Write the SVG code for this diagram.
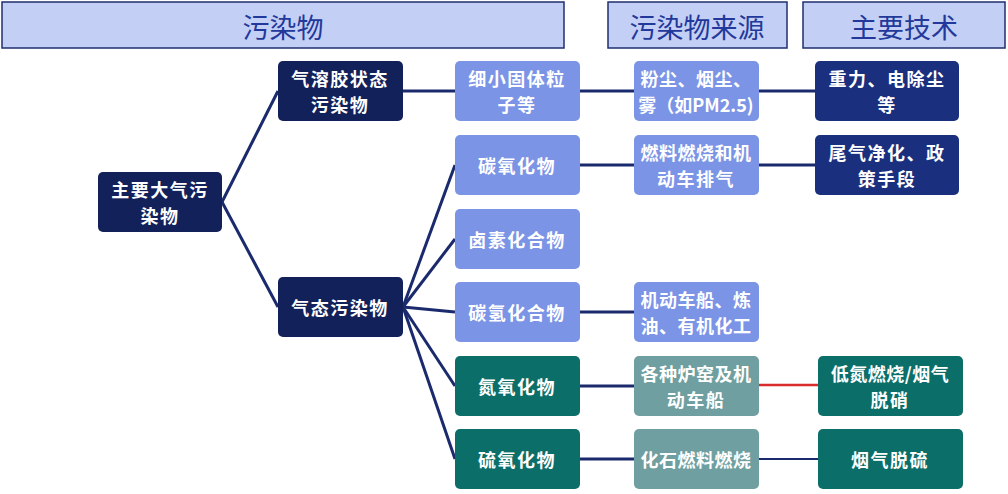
<svg xmlns="http://www.w3.org/2000/svg" width="1008" height="494" viewBox="0 0 1008 494">
<style>
text{font-family:"Noto Sans CJK SC","Noto Sans",sans-serif;text-anchor:middle;dominant-baseline:central;}
.hdr rect{fill:#c4cff5;stroke:#1f2f6e;stroke-width:1.5}
.hdr text{fill:#22389a;font-size:27px}
.nd text{fill:#ffffff;font-size:18px;font-weight:bold;letter-spacing:1.5px}
.dk{fill:#13215a}
.nv{fill:#1a2f7e}
.lb{fill:#7b94e6}
.tl{fill:#0c6e69}
.gt{fill:#6f9fa0}
.cn line{stroke:#1a2a6c;stroke-width:3;stroke-linecap:butt}
</style>
<rect width="1008" height="494" fill="#ffffff"/>
<g class="hdr" id="h1"><rect x="2" y="2" width="562" height="46"/><text x="283" y="26">污染物</text></g>
<g class="hdr" id="h2"><rect x="608" y="2" width="179" height="46"/><text x="697" y="26">污染物来源</text></g>
<g class="hdr" id="h3"><rect x="803" y="2" width="202" height="46"/><text x="904" y="26">主要技术</text></g>

<g class="cn" id="connectors">
<line x1="222" y1="202" x2="278" y2="91"/>
<line x1="222" y1="202" x2="278" y2="307"/>
<line x1="403" y1="91" x2="455" y2="91"/>
<line x1="403" y1="307" x2="455" y2="165"/>
<line x1="403" y1="307" x2="455" y2="239"/>
<line x1="403" y1="307" x2="455" y2="312"/>
<line x1="403" y1="307" x2="455" y2="386"/>
<line x1="403" y1="307" x2="455" y2="459"/>
<line x1="580" y1="91" x2="634" y2="91"/>
<line x1="580" y1="165" x2="634" y2="165"/>
<line x1="580" y1="312" x2="634" y2="312"/>
<line x1="580" y1="386" x2="634" y2="386"/>
<line x1="580" y1="459" x2="634" y2="459"/>
<line x1="759" y1="91" x2="815" y2="91"/>
<line x1="759" y1="165" x2="815" y2="165"/>
<line x1="759" y1="385" x2="818" y2="385" style="stroke:#d92b2b;stroke-width:2.5"/>
<line x1="759" y1="459" x2="818" y2="459" style="stroke-width:2"/>
</g>

<g class="nd" id="root"><rect class="dk" x="98" y="172" width="124" height="60" rx="5"/><text x="160" y="189">主要大气污</text><text x="160" y="215">染物</text></g>
<g class="nd" id="aerosol"><rect class="dk" x="278" y="61" width="125" height="60" rx="5"/><text x="340" y="78">气溶胶状态</text><text x="340" y="104">污染物</text></g>
<g class="nd" id="gas"><rect class="dk" x="278" y="277" width="125" height="60" rx="5"/><text x="340" y="307">气态污染物</text></g>

<g class="nd" id="fine"><rect class="lb" x="455" y="61" width="125" height="60" rx="5"/><text x="517" y="78">细小固体粒</text><text x="517" y="104">子等</text></g>
<g class="nd" id="cox"><rect class="lb" x="455" y="135" width="125" height="60" rx="5"/><text x="517" y="165">碳氧化物</text></g>
<g class="nd" id="halo"><rect class="lb" x="455" y="209" width="125" height="60" rx="5"/><text x="517" y="239">卤素化合物</text></g>
<g class="nd" id="hc"><rect class="lb" x="455" y="282" width="125" height="60" rx="5"/><text x="517" y="312">碳氢化合物</text></g>
<g class="nd" id="nox"><rect class="tl" x="455" y="356" width="125" height="60" rx="5"/><text x="517" y="386">氮氧化物</text></g>
<g class="nd" id="sox"><rect class="tl" x="455" y="429" width="125" height="60" rx="5"/><text x="517" y="459">硫氧化物</text></g>

<g class="nd" id="src1"><rect class="lb" x="634" y="61" width="125" height="60" rx="5"/><text x="696" y="78" style="letter-spacing:0.5px">粉尘、烟尘、</text><text x="696" y="104" style="letter-spacing:0">雾（如PM2.5)</text></g>
<g class="nd" id="src2"><rect class="lb" x="634" y="135" width="125" height="60" rx="5"/><text x="696" y="152" style="letter-spacing:0.5px">燃料燃烧和机</text><text x="696" y="178">动车排气</text></g>
<g class="nd" id="src3"><rect class="lb" x="634" y="282" width="125" height="60" rx="5"/><text x="696" y="299" style="letter-spacing:0.5px">机动车船、炼</text><text x="696" y="325" style="letter-spacing:0.5px">油、有机化工</text></g>
<g class="nd" id="src4"><rect class="gt" x="634" y="356" width="125" height="60" rx="5"/><text x="696" y="373" style="letter-spacing:0.5px">各种炉窑及机</text><text x="696" y="399">动车船</text></g>
<g class="nd" id="src5"><rect class="gt" x="634" y="429" width="125" height="60" rx="5"/><text x="696" y="459" style="letter-spacing:0.5px">化石燃料燃烧</text></g>

<g class="nd" id="tech1"><rect class="nv" x="815" y="61" width="144" height="60" rx="5"/><text x="887" y="78">重力、电除尘</text><text x="887" y="104">等</text></g>
<g class="nd" id="tech2"><rect class="nv" x="815" y="135" width="144" height="60" rx="5"/><text x="887" y="152">尾气净化、政</text><text x="887" y="178">策手段</text></g>
<g class="nd" id="tech3"><rect class="tl" x="818" y="356" width="145" height="60" rx="5"/><text x="890" y="373" style="letter-spacing:0.5px">低氮燃烧/烟气</text><text x="890" y="399">脱硝</text></g>
<g class="nd" id="tech4"><rect class="tl" x="818" y="429" width="145" height="60" rx="5"/><text x="890" y="459">烟气脱硫</text></g>
</svg>
